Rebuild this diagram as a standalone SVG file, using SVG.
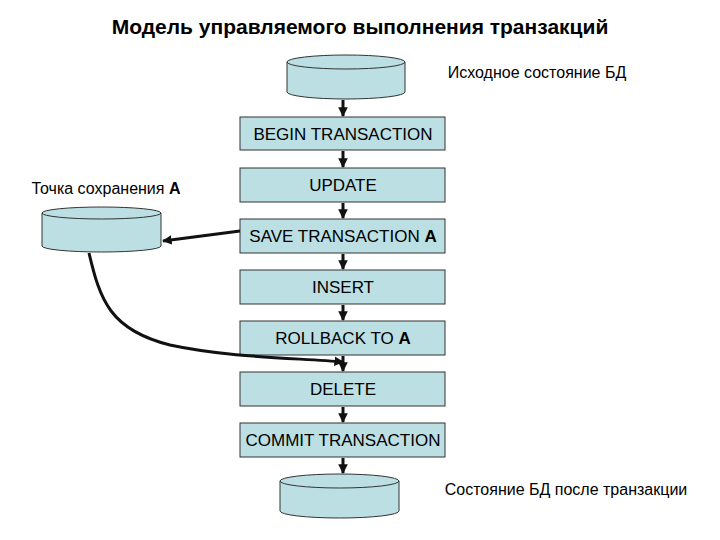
<svg xmlns="http://www.w3.org/2000/svg" width="720" height="540" viewBox="0 0 720 540">
<style>
text{font-family:"Liberation Sans",Arial,sans-serif;fill:#000}
.b{fill:#bcdfe3;stroke:#333;stroke-width:1}
.t{font-size:17px;text-anchor:middle}
.c{stroke:#111;stroke-width:3;fill:none}
</style>
<defs>
<marker id="ah" viewBox="0 0 10 10" refX="9" refY="5" markerWidth="3.2" markerHeight="3.2" orient="auto"><path d="M0,0L10,5L0,10z" fill="#111"/></marker>
</defs>
<rect width="720" height="540" fill="#fff"/>
<text x="360" y="34" style="font-size:21px;font-weight:bold" text-anchor="middle">Модель управляемого выполнения транзакций</text>
<g id="db-start"><path class="b" d="M287,62 L287,92 A59,7 0 0 0 405,92 L405,62 A59,7 0 0 0 287,62 A59,7 0 0 0 405,62"/><text x="537" y="78" style="font-size:16px" text-anchor="middle">Исходное состояние БД</text></g>
<g id="n-begin"><rect class="b" x="240" y="117" width="205" height="33"/><text class="t" x="343" y="140">BEGIN TRANSACTION</text></g>
<g id="n-update"><rect class="b" x="240" y="168" width="205" height="34"/><text class="t" x="343" y="191">UPDATE</text></g>
<g id="n-save"><rect class="b" x="240" y="219" width="205" height="34"/><text class="t" x="343" y="242">SAVE TRANSACTION <tspan font-weight="bold">A</tspan></text></g>
<g id="n-insert"><rect class="b" x="240" y="270" width="205" height="34"/><text class="t" x="343" y="293">INSERT</text></g>
<g id="n-rollback"><rect class="b" x="240" y="321" width="205" height="34"/><text class="t" x="343" y="344">ROLLBACK TO <tspan font-weight="bold">A</tspan></text></g>
<g id="n-delete"><rect class="b" x="240" y="372" width="205" height="34"/><text class="t" x="343" y="395">DELETE</text></g>
<g id="n-commit"><rect class="b" x="240" y="423" width="205" height="34"/><text class="t" x="343" y="446">COMMIT TRANSACTION</text></g>
<g id="db-save"><path class="b" d="M42,213 L42,246 A59.5,6 0 0 0 161,246 L161,213 A59.5,6 0 0 0 42,213 A59.5,6 0 0 0 161,213"/><text x="106" y="194" style="font-size:16px" text-anchor="middle">Точка сохранения <tspan font-weight="bold">A</tspan></text></g>
<g id="db-end"><path class="b" d="M280,481 L280,511 A59.5,7 0 0 0 399,511 L399,481 A59.5,7 0 0 0 280,481 A59.5,7 0 0 0 399,481"/><text x="566" y="495" style="font-size:16px" text-anchor="middle">Состояние БД после транзакции</text></g>
<g id="connectors">
<path class="c" marker-end="url(#ah)" d="M343,100 V116"/>
<path class="c" marker-end="url(#ah)" d="M343,151 V167"/>
<path class="c" marker-end="url(#ah)" d="M343,203 V218"/>
<path class="c" marker-end="url(#ah)" d="M343,254 V269"/>
<path class="c" marker-end="url(#ah)" d="M343,305 V320"/>
<path class="c" marker-end="url(#ah)" d="M343,356 V371"/>
<path class="c" marker-end="url(#ah)" d="M343,407 V422"/>
<path class="c" marker-end="url(#ah)" d="M343,458 V473"/>
<path class="c" marker-end="url(#ah)" d="M240,231 L163,241"/>
<path class="c" marker-end="url(#ah)" d="M89,253 C100,300 110,330 170,345 C230,358 300,358 343,362"/>
</g>
</svg>
